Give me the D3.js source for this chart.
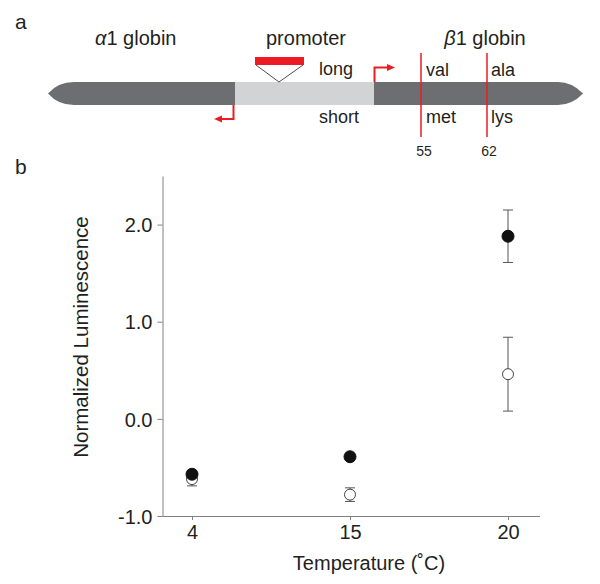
<!DOCTYPE html>
<html>
<head>
<meta charset="utf-8">
<script src="https://cdn.jsdelivr.net/npm/d3@7"></script>
<style>
  body { margin: 0; background: #fff; }
  svg { display: block; }
  text { font-family: "Liberation Sans", Arial, Helvetica, sans-serif; fill: #231f20; }
</style>
</head>
<body>
<svg id="chart" width="600" height="584"></svg>
<script>
// ---------- data ----------
const categories = ["4", "15", "20"];
const filledMean = [-0.57, -0.39, 1.88];
const filledErr  = [0.03, 0.03, 0.27];
const openMean   = [-0.62, -0.78, 0.46];
const openErr    = [0.07, 0.07, 0.38];
const yTicks     = [-1.0, 0.0, 1.0, 2.0];
const yTickLabels = ["-1.0", "0.0", "1.0", "2.0"];

// schematic labels (panel a)
const geneLabels = ["α1 globin", "promoter", "β1 globin"];
const variantTop = ["long", "val", "ala"];
const variantBottom = ["short", "met", "lys"];
const codons = ["55", "62"];

const svg = d3.select("#chart");
const RED = "#ed1c24", DARK = "#6d6e71", LIGHT = "#d1d3d4", AXIS = "#808080";

// ---------- panel a ----------
const a = svg.append("g");
a.append("text").attr("x", 15).attr("y", 29).attr("font-size", 21).text("a");

// gene titles
const t1 = a.append("text").attr("x", 95).attr("y", 45).attr("font-size", 20);
t1.append("tspan").attr("font-style", "italic").text(geneLabels[0].slice(0,1));
t1.append("tspan").text(geneLabels[0].slice(1));
a.append("text").attr("x", 306).attr("y", 45).attr("font-size", 20).attr("text-anchor", "middle").text(geneLabels[1]);
const t3 = a.append("text").attr("x", 485).attr("y", 45).attr("font-size", 20).attr("text-anchor", "middle");
t3.append("tspan").attr("font-style", "italic").text(geneLabels[2].slice(0,1));
t3.append("tspan").text(geneLabels[2].slice(1));

// chromosome bar
const yTop = 82, yBot = 105, yMid = 93.5;
a.append("path")
  .attr("d", `M48,${yMid} Q58,${yTop} 74,${yTop} L558,${yTop} Q572,${yTop} 583,${yMid} Q572,${yBot} 558,${yBot} L74,${yBot} Q58,${yBot} 48,${yMid} Z`)
  .attr("fill", DARK);
a.append("rect").attr("x", 235).attr("y", yTop).attr("width", 139).attr("height", yBot - yTop).attr("fill", LIGHT);

// promoter insert
a.append("rect").attr("x", 255).attr("y", 57).attr("width", 49).attr("height", 8).attr("fill", RED);
a.append("path").attr("d", "M256,65 L279,82 L303,65").attr("fill", "#fff").attr("stroke", "#231f20").attr("stroke-width", 0.8);

// transcription arrows
a.append("path").attr("d", "M233.5,105 V119 H221").attr("fill", "none").attr("stroke", RED).attr("stroke-width", 2);
a.append("path").attr("d", "M214,119 L222,115.5 L222,122.5 Z").attr("fill", RED);
a.append("path").attr("d", "M374.5,82 V67.5 H388").attr("fill", "none").attr("stroke", RED).attr("stroke-width", 2);
a.append("path").attr("d", "M395,67.5 L387,64 L387,71 Z").attr("fill", RED);

// codon lines
[421, 487].forEach(x => {
  a.append("line").attr("x1", x).attr("x2", x).attr("y1", 53).attr("y2", 137).attr("stroke", RED).attr("stroke-width", 1.5);
});

a.append("text").attr("x", 319).attr("y", 75).attr("font-size", 18).text(variantTop[0]);
a.append("text").attr("x", 319).attr("y", 123).attr("font-size", 18).text(variantBottom[0]);
a.append("text").attr("x", 426).attr("y", 76).attr("font-size", 18).text(variantTop[1]);
a.append("text").attr("x", 491).attr("y", 76).attr("font-size", 18).text(variantTop[2]);
a.append("text").attr("x", 426).attr("y", 123).attr("font-size", 18).text(variantBottom[1]);
a.append("text").attr("x", 491).attr("y", 123).attr("font-size", 18).text(variantBottom[2]);
a.append("text").attr("x", 424).attr("y", 156).attr("font-size", 14).attr("text-anchor", "middle").text(codons[0]);
a.append("text").attr("x", 489).attr("y", 156).attr("font-size", 14).attr("text-anchor", "middle").text(codons[1]);

// ---------- panel b ----------
svg.append("text").attr("x", 15).attr("y", 174).attr("font-size", 21).text("b");

const x = d3.scalePoint().domain(categories).range([192, 508]);
const y = d3.scaleLinear().domain([-1, 2.5]).range([516, 176]);

const xLeft = 162.5, xRight = 540;

// y axis
const yAxis = svg.append("g").attr("transform", `translate(${xLeft},0)`)
  .call(d3.axisLeft(y).tickValues(yTicks).tickFormat((d, i) => yTickLabels[i]).tickSize(5).tickSizeOuter(0).tickPadding(5));
yAxis.select(".domain").attr("stroke", AXIS);
yAxis.selectAll(".tick line").attr("stroke", AXIS);
yAxis.selectAll(".tick text").attr("font-size", 20).attr("font-family", null).attr("fill", "#231f20").attr("dy", "0.36em");

// x axis
const xAxis = svg.append("g").attr("transform", `translate(0,516)`)
  .call(d3.axisBottom(x).tickSize(4).tickSizeOuter(0).tickPadding(5));
xAxis.select(".domain").remove();
xAxis.append("line").attr("x1", xLeft).attr("x2", xRight).attr("y1", 0.5).attr("y2", 0.5).attr("stroke", AXIS);
xAxis.selectAll(".tick line").attr("stroke", AXIS);
xAxis.selectAll(".tick text").attr("font-size", 20).attr("font-family", null).attr("fill", "#231f20");

// axis titles
svg.append("text").attr("transform", "translate(88,337) rotate(-90)")
  .attr("text-anchor", "middle").attr("font-size", 20.5).text("Normalized Luminescence");
svg.append("text").attr("x", 369).attr("y", 570).attr("text-anchor", "middle").attr("font-size", 20)
  .text("Temperature (˚C)");

// error bars + markers
function series(means, errs, filled) {
  const g = svg.append("g");
  const data = categories.map((c, i) => ({c, m: means[i], e: errs[i]}));
  g.selectAll(".eb").data(data).enter().append("path")
    .attr("d", d => {
      const cx = x(d.c), y1 = y(d.m + d.e), y2 = y(d.m - d.e);
      return `M${cx - 5},${y1} H${cx + 5} M${cx},${y1} V${y2} M${cx - 5},${y2} H${cx + 5}`;
    })
    .attr("stroke", "#555").attr("stroke-width", 1).attr("fill", "none");
  g.selectAll("circle").data(data).enter().append("circle")
    .attr("cx", d => x(d.c)).attr("cy", d => y(d.m)).attr("r", filled ? 6 : 5.5)
    .attr("fill", filled ? "#111" : "#fff")
    .attr("stroke", filled ? "#111" : "#444").attr("stroke-width", 1);
}
series(openMean, openErr, false);
series(filledMean, filledErr, true);
</script>
</body>
</html>
